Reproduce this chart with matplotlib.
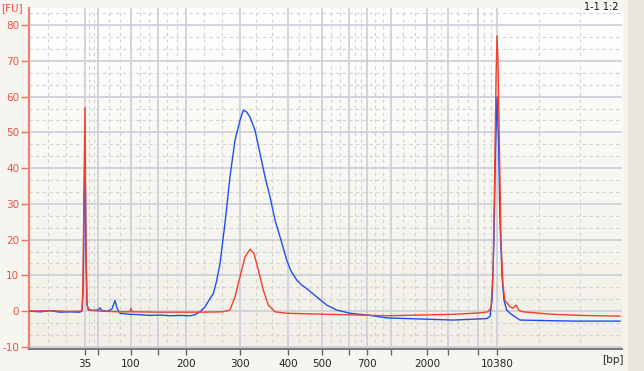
import matplotlib.pyplot as plt
import numpy as np

# ladder calibration: fragment size (bp) -> migration time (s)
ladder_bp = [35, 50, 100, 150, 200, 300, 400, 500, 600, 700, 1000, 2000, 3000, 7000, 10380]
ladder_time = [28.96, 31.04, 36.32, 40.64, 45.12, 53.76, 61.44, 66.80, 71.20, 74.08,
               77.84, 83.68, 86.96, 91.84, 94.88]
labelled_bp = [35, 100, 200, 300, 400, 500, 700, 2000, 10380]
fu_ticks = [-10, 0, 10, 20, 30, 40, 50, 60, 70, 80]

# sample 1 (blue)
blue_time = [20.00, 21.76, 23.36, 24.96, 26.56, 28.16, 28.48, 28.64, 28.80, 28.96, 29.12, 29.28,
             29.44, 30.08, 31.04, 31.36, 31.68, 32.64, 33.28, 33.76, 34.08, 34.56, 36.16, 37.76,
             39.36, 40.96, 42.56, 44.16, 45.76, 46.56, 47.36, 48.16, 48.96, 49.49, 50.03, 50.56,
             51.36, 52.16, 52.96, 53.76, 54.29, 54.83, 55.36, 56.16, 56.96, 57.76, 58.56, 59.36,
             60.16, 61.23, 61.92, 62.83, 63.63, 64.43, 66.03, 67.63, 69.23, 71.36, 74.56, 77.23,
             82.56, 87.84, 93.23, 93.76, 94.08, 94.40, 94.64, 94.88, 95.12, 95.36, 95.68, 96.00,
             96.43, 96.96, 97.76, 98.56, 103.84, 108.16, 114.56]
blue_fu = [0.0, -0.2, 0.1, -0.3, -0.2, -0.3, 0.2, 5, 25, 47, 15, 2,
           0.5, 0.2, 0.3, 0.9, 0.1, 0.0, 0.6, 3.0, 0.8, -0.6, -0.9, -1.0,
           -1.2, -1.1, -1.3, -1.2, -1.3, -1.0, -0.2, 1.2, 3.5, 4.9, 8.5, 13.3,
           24.6, 37.6, 47.8, 53.4, 56.2, 55.7, 54.3, 50.6, 44.1, 37.6, 32.0, 25.5,
           20.8, 14.3, 11.2, 8.7, 7.3, 6.3, 4.0, 1.7, 0.3, -0.6, -1.2, -1.9,
           -2.2, -2.5, -2.1, -1.5, 3, 20, 45, 60, 48, 25, 10, 3,
           0.3, -0.6, -1.6, -2.5, -2.7, -2.8, -2.8]

# sample 2 (red)
red_time = [20.00, 23.36, 26.56, 28.48, 28.64, 28.80, 28.96, 29.12, 29.28, 29.52, 31.36, 34.56,
            36.16, 36.32, 36.48, 40.96, 47.36, 51.04, 52.16, 52.96, 53.76, 54.56, 55.36, 56.00,
            56.69, 57.49, 58.29, 59.36, 61.23, 65.49, 72.96, 77.23, 82.56, 87.84, 92.16, 93.44,
            93.92, 94.24, 94.48, 94.72, 94.88, 95.04, 95.28, 95.52, 95.84, 96.16, 96.96, 97.44,
            97.92, 98.40, 99.04, 103.84, 108.16, 114.56]
red_fu = [0.0, 0.1, -0.1, 0.0, 8, 35, 57, 20, 2, 0.3, 0.0, -0.2,
          -0.2, 0.8, -0.2, -0.3, -0.3, -0.2, 0.3, 4.0, 9.6, 15.2, 17.3, 16.1,
          11.5, 5.9, 1.7, -0.2, -0.6, -0.8, -1.1, -1.3, -1.1, -0.9, -0.5, -0.2,
          1, 10, 35, 65, 77, 70, 45, 20, 7, 3, 1.2, 0.8,
          1.7, 0.2, -0.2, -0.9, -1.2, -1.4]

x_min, x_max = 20.0, 114.88
y_min, y_max = -10.6, 84.8

fig = plt.figure(figsize=(6.44, 3.71), dpi=100, facecolor="#f6f5f0")
ax = fig.add_axes([29 / 644, 22 / 371, 593 / 644, 341 / 371])
ax.set_xlim(x_min, x_max)
ax.set_ylim(y_min, y_max)

# light vertical gradient background
grad = np.linspace(1, 0, 64).reshape(-1, 1)
ax.imshow(grad, extent=[x_min, x_max, y_min, y_max], aspect="auto", zorder=0,
          cmap=plt.matplotlib.colors.LinearSegmentedColormap.from_list("bg", ["#f1efe6", "#ffffff"]))
fig.patches.append(plt.Rectangle((628 / 644, 0), 16 / 644, 1, transform=fig.transFigure,
                                 color="#e9e7dd", zorder=-1))

# major grid at ladder peaks, minor dashed grid at thirds between them
bounds = [x_min] + ladder_time + [x_max]
minor_x = []
for a, b in zip(bounds[:-1], bounds[1:]):
    minor_x += [a + (b - a) / 3, a + 2 * (b - a) / 3]
minor_x.append(x_max - 0.05)
for x in ladder_time:
    ax.axvline(x, color="#cdd1da", lw=1.3, zorder=1)
for x in minor_x:
    ax.axvline(x, color="#d2d2d2", lw=0.8, ls=(0, (3, 3)), zorder=1)
for y in fu_ticks:
    ax.axhline(y, color="#cdd1da", lw=1.3, zorder=1)
for y in np.arange(-10, y_max, 10 / 3):
    if abs(y - round(y / 10) * 10) > 0.5:
        ax.axhline(y, color="#d2d2d2", lw=0.8, ls=(0, (3, 3)), zorder=1)

ax.plot(blue_time, blue_fu, color="#1f4ff0", lw=1.0, zorder=3)
ax.plot(red_time, red_fu, color="#f0402e", lw=1.0, zorder=4)

ax.set_xticks(ladder_time)
ax.set_xticklabels([str(b) if b in labelled_bp else "" for b in ladder_bp])
ax.set_yticks(fu_ticks)
ax.set_yticklabels([str(v) for v in fu_ticks])
ax.tick_params(axis="x", colors="#666666", labelcolor="#222222", labelsize=7.5, length=4, width=1, pad=3)
ax.tick_params(axis="y", colors="#f07060", labelcolor="#f05040", labelsize=7.5, length=6, width=1, pad=1)
for s in ["top", "right"]:
    ax.spines[s].set_visible(False)
ax.spines["left"].set_color("#f08070")
ax.spines["left"].set_linewidth(1.6)
ax.spines["bottom"].set_color("#777777")
ax.spines["bottom"].set_linewidth(1.4)

fig.text(1 / 644, 1 - 8 / 371, "[FU]", color="#f05040", fontsize=7.5, va="center", ha="left")
fig.text(624 / 644, 1 - 360 / 371, "[bp]", color="#222222", fontsize=7.5, va="center", ha="right")
fig.text(618 / 644, 1 - 7 / 371, "1-1 1:2", color="#111111", fontsize=7, va="center", ha="right")

fig.savefig("out.png", dpi=100, facecolor=fig.get_facecolor())
